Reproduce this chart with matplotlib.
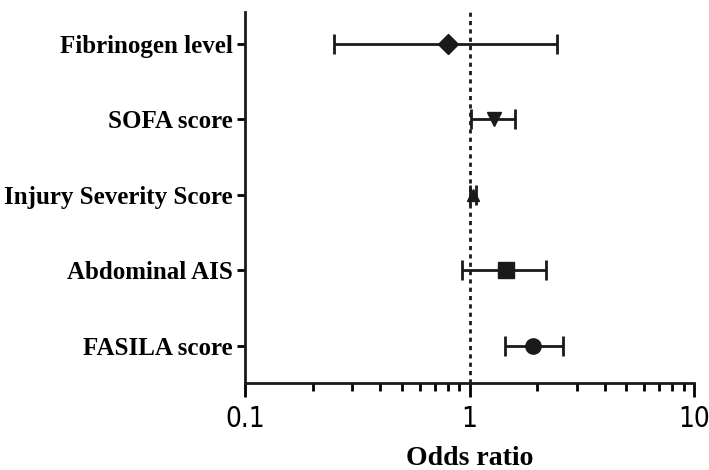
import matplotlib
matplotlib.use("Agg")
import matplotlib.pyplot as plt
from matplotlib.ticker import FixedLocator, LogLocator, NullFormatter

# data (odds ratio with 95% CI)
labels = ["FASILA score", "Abdominal AIS", "Injury Severity Score", "SOFA score", "Fibrinogen level"]
odds = [1.92, 1.45, 1.04, 1.28, 0.80]
ci_low = [1.44, 0.93, 1.01, 1.02, 0.25]
ci_high = [2.60, 2.20, 1.07, 1.59, 2.46]
markers = ["o", "s", "^", "v", "D"]
marker_sizes = [11, 11, 8, 10, 10]
xticks = [0.1, 1, 10]
xtick_labels = ["0.1", "1", "10"]

fig = plt.figure(figsize=(7.09, 4.70), dpi=100)
ax = fig.add_axes([245 / 709, 87 / 470, 449 / 709, 371 / 470])

ypos = list(range(len(labels)))
for y, o, lo, hi, m, ms in zip(ypos, odds, ci_low, ci_high, markers, marker_sizes):
    ax.errorbar(o, y, xerr=[[o - lo], [hi - o]], fmt=m, color="#1a1a1a",
                ms=ms, elinewidth=2, capsize=7, capthick=2, zorder=3)

ax.axvline(1, color="#1a1a1a", lw=2, ls=(0, (1.5, 1.5)), zorder=2)

ax.set_xscale("log")
ax.set_xlim(0.1, 10)
ax.set_ylim(-0.49, 4.42)
ax.xaxis.set_major_locator(FixedLocator(xticks))
ax.set_xticklabels(xtick_labels, fontsize=20, family="DejaVu Sans", fontstretch="condensed")
ax.xaxis.set_minor_locator(LogLocator(base=10, subs=range(2, 10)))
ax.xaxis.set_minor_formatter(NullFormatter())
ax.tick_params(axis="x", which="major", length=10, width=2, pad=6)
ax.tick_params(axis="x", which="minor", length=6, width=2)

ax.set_yticks(ypos)
ax.set_yticklabels(labels, fontsize=18, family="Liberation Serif", fontweight="bold")
ax.tick_params(axis="y", length=6, width=2, pad=3)

ax.set_xlabel("Odds ratio", fontsize=20, family="Liberation Serif",
              fontweight="bold", labelpad=9)

for side in ["top", "right"]:
    ax.spines[side].set_visible(False)
for side in ["left", "bottom"]:
    ax.spines[side].set_linewidth(2)
    ax.spines[side].set_color("#1a1a1a")

fig.savefig("out.png", dpi=100)
